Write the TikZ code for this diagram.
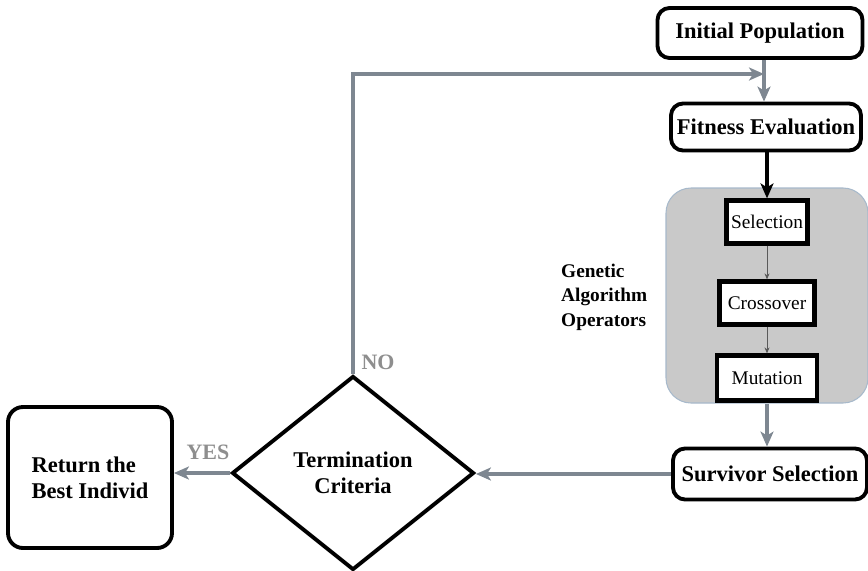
\documentclass[tikz,border=0pt]{standalone}
\usepackage{fontspec}
\setmainfont{Liberation Serif}
\usetikzlibrary{shapes.geometric, arrows.meta, positioning}
\definecolor{flowgray}{HTML}{7E8791}
\definecolor{lblgray}{HTML}{8E8E8E}
\definecolor{panelbg}{HTML}{C9C9C9}
\definecolor{panelrim}{HTML}{A7B9CB}
\newcommand{\boxfont}{\fontsize{12.8}{15}\selectfont\bfseries}
\newcommand{\opfont}{\fontsize{11}{13}\selectfont}
\tikzset{
  % fasi principali dell'algoritmo
  stage/.style={draw=black, line width=2.2pt, rounded corners=0.24cm, fill=white,
    inner sep=0pt, align=center, font=\boxfont},
  % operatori genetici nel pannello grigio
  opbox/.style={draw=black, line width=2.4pt, fill=white, inner sep=0pt,
    align=center, font=\opfont},
  panel/.style={draw=panelrim, line width=0.6pt, fill=panelbg, rounded corners=0.5cm},
  % blocco di decisione
  decision/.style={diamond, draw=black, line width=2.2pt, fill=white, inner sep=0pt,
    align=center, font=\boxfont},
  % collegamenti
  flow/.style={-{Stealth[length=3mm, width=2.6mm, inset=0.8mm]}, line width=2pt, flowgray},
  hardflow/.style={flow, black},
  link/.style={-{Stealth[length=1.2mm, width=1mm]}, line width=0.5pt, black!65},
  % etichette
  answer/.style={font=\fontsize{12.5}{15}\selectfont\bfseries, text=lblgray},
  oplbl/.style={font=\fontsize{11}{14}\selectfont\bfseries, align=left},
}
\begin{document}
\begin{tikzpicture}
  \useasboundingbox (0,0) rectangle (17.36,-11.4);
  \node[stage, minimum width=4.1cm, minimum height=1cm] (init) at (15.2,-0.66) {Initial Population};
  \node[stage, minimum width=3.8cm, minimum height=0.94cm] (fit) at (15.32,-2.54) {Fitness Evaluation};
  \node[panel, minimum width=4.04cm, minimum height=4.3cm] (ops) at (15.34,-5.91) {};
  \node[opbox, minimum width=1.62cm, minimum height=0.86cm] (sel) at (15.34,-4.44) {Selection};
  \node[opbox, minimum width=1.9cm, minimum height=0.86cm] (cross) at (15.34,-6.06) {Crossover};
  \node[opbox, minimum width=2cm, minimum height=0.9cm] (mut) at (15.34,-7.56) {Mutation};
  \node[oplbl, anchor=west] (gaops) at (11.1,-5.94) {Genetic\\Algorithm\\Operators};
  \node[stage, minimum width=3.88cm, minimum height=1.02cm] (surv) at (15.4,-9.48) {Survivor Selection};
  \node[decision, minimum width=4.84cm, minimum height=3.88cm] (term) at (7.06,-9.46) {Termination\\Criteria};
  \node[stage, rounded corners=0.3cm, minimum width=3.28cm, minimum height=2.82cm, align=left] (ret) at (1.8,-9.55) {Return the\\Best Individ};
  \coordinate (join) at (15.28,-1.48);

  \draw[flow] (init.south -| join) -- (join |- fit.north);
  \draw[hardflow] (fit.south -| sel) -- (sel.north);
  \draw[link] (sel) -- (cross);
  \draw[link] (cross) -- (mut);
  \draw[flow] (ops.south) -- (ops.south |- surv.north);
  \draw[flow] (surv.west) -- (surv.west -| term.east);
  \draw[flow] (term.west) -- (term.west -| ret.east);
  \draw[flow] (term.north) |- (join);
  \node[answer] (no) at (7.56,-7.24) {NO};
  \node[answer] (yes) at (4.16,-9.04) {YES};
\end{tikzpicture}
\end{document}
